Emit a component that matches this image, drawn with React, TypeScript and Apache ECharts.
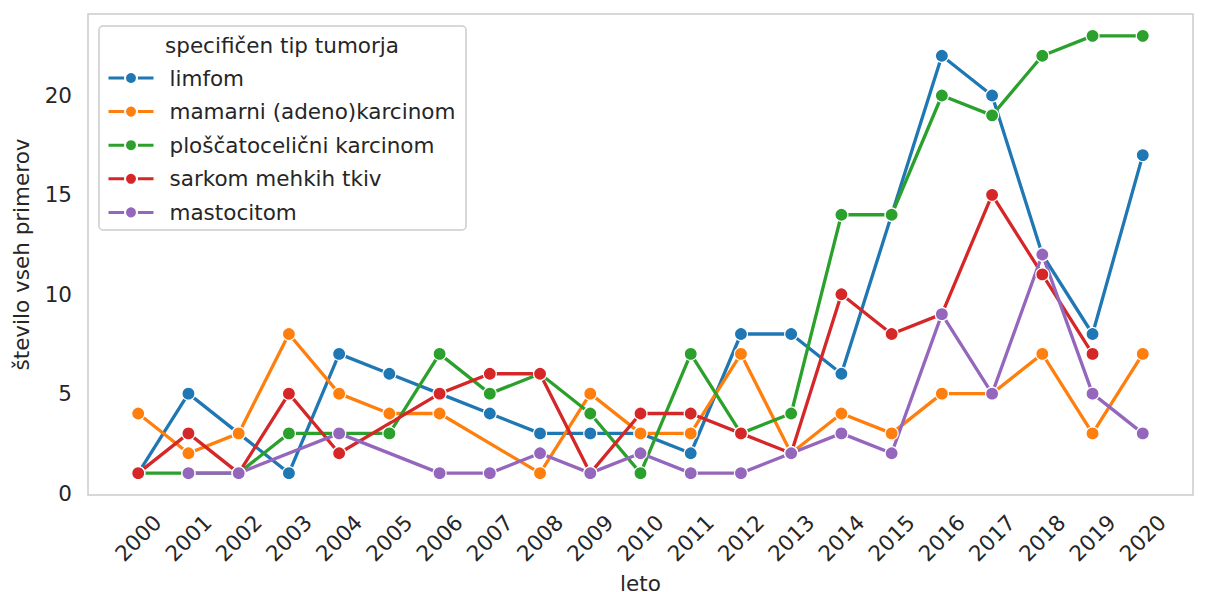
import React, { useEffect, useRef } from "react";
import * as echarts from "echarts";

const years = [2000, 2001, 2002, 2003, 2004, 2005, 2006, 2007, 2008, 2009, 2010, 2011, 2012, 2013, 2014, 2015, 2016, 2017, 2018, 2019, 2020];
const seriesNames = ["limfom", "mamarni (adeno)karcinom", "ploščatocelični karcinom", "sarkom mehkih tkiv", "mastocitom"];
const limfom = [1, 5, 3, 1, 7, 6, 5, 4, 3, 3, 3, 2, 8, 8, 6, 14, 22, 20, 12, 8, 17];
const mamarni = [4, 2, 3, 8, 5, 4, 4, null, 1, 5, 3, 3, 7, 2, 4, 3, 5, 5, 7, 3, 7];
const ploscatocelicni = [1, 1, 1, 3, 3, 3, 7, 5, 6, 4, 1, 7, 3, 4, 14, 14, 20, 19, 22, 23, 23];
const sarkom = [1, 3, 1, 5, 2, null, 5, 6, 6, 1, 4, 4, 3, 2, 10, 8, 9, 15, 11, 7, null];
const mastocitom = [null, 1, 1, null, 3, null, 1, 1, 2, 1, 2, 1, 1, 2, 3, 2, 9, 5, 12, 5, 3];
const yTicks = [0, 5, 10, 15, 20];
const colors = ["#1f77b4", "#ff7f0e", "#2ca02c", "#d62728", "#9467bd"];

const FONT = "DejaVu Sans";
const FS = 21.5;
const TXT = "#262626";

export default function App() {
  const ref = useRef<HTMLDivElement>(null);
  useEffect(() => {
    document.body.style.margin = "0";
    const chart = echarts.init(ref.current!, null, { renderer: "svg" });
    const all = [limfom, mamarni, ploscatocelicni, sarkom, mastocitom];
    const series = all.map((vals, i) => ({
      name: seriesNames[i],
      type: "line",
      data: years
        .map((y, j) => [y, vals[j]])
        .filter((p) => p[1] !== null && p[1] !== undefined),
      symbol: "circle",
      symbolSize: 13,
      lineStyle: { width: 3.3, color: colors[i] },
      itemStyle: { color: colors[i], borderColor: "#ffffff", borderWidth: 1.2 },
      emphasis: { disabled: true },
    }));
    chart.setOption({
      animation: false,
      color: colors,
      textStyle: { fontFamily: FONT },
      grid: {
        left: 88,
        right: 21,
        top: 14,
        bottom: 97,
        show: true,
        borderColor: "#cccccc",
        borderWidth: 1.5,
        outerBoundsMode: "none",
        containLabel: false,
      },
      xAxis: {
        type: "value",
        min: 1999,
        max: 2021,
        name: "leto",
        nameLocation: "middle",
        nameGap: 76,
        nameTextStyle: { fontSize: FS, color: TXT, fontFamily: FONT },
        axisLine: { show: false },
        axisTick: { show: false },
        splitLine: { show: false },
        axisLabel: {
          customValues: years,
          rotate: 45,
          align: "center",
          verticalAlign: "middle",
          margin: 43,
          fontSize: FS,
          color: TXT,
          fontFamily: FONT,
          formatter: (v: number) => String(v),
        },
      },
      yAxis: {
        type: "value",
        min: -0.1,
        max: 24.1,
        name: "število vseh primerov",
        nameLocation: "middle",
        nameGap: 56,
        nameTextStyle: { fontSize: FS, color: TXT, fontFamily: FONT },
        axisLine: { show: false },
        axisTick: { show: false },
        splitLine: { show: false },
        axisLabel: {
          customValues: yTicks,
          margin: 16,
          fontSize: FS,
          color: TXT,
          fontFamily: FONT,
        },
      },
      legend: {
        orient: "vertical",
        left: 107,
        top: 67,
        padding: 0,
        itemWidth: 45,
        itemHeight: 15,
        itemGap: 11.6,
        data: seriesNames,
        lineStyle: { width: 3 },
        textStyle: { fontSize: FS, color: TXT, fontFamily: FONT, padding: [0, 0, 0, 11] },
        z: 6,
      },
      graphic: [
        {
          type: "rect",
          shape: { x: 99, y: 26, width: 367, height: 204, r: 4 },
          style: { fill: "rgba(255,255,255,0.8)", stroke: "#cccccc", lineWidth: 1.5 },
          z: 5,
        },
        {
          type: "text",
          x: 282,
          y: 45,
          style: { text: "specifičen tip tumorja", fontSize: FS, fontFamily: FONT, fill: TXT, align: "center", verticalAlign: "middle" },
          z: 7,
        },
      ],
      series,
    });
    return () => chart.dispose();
  }, []);
  return <div ref={ref} style={{ width: 1214, height: 592 }} />;
}
